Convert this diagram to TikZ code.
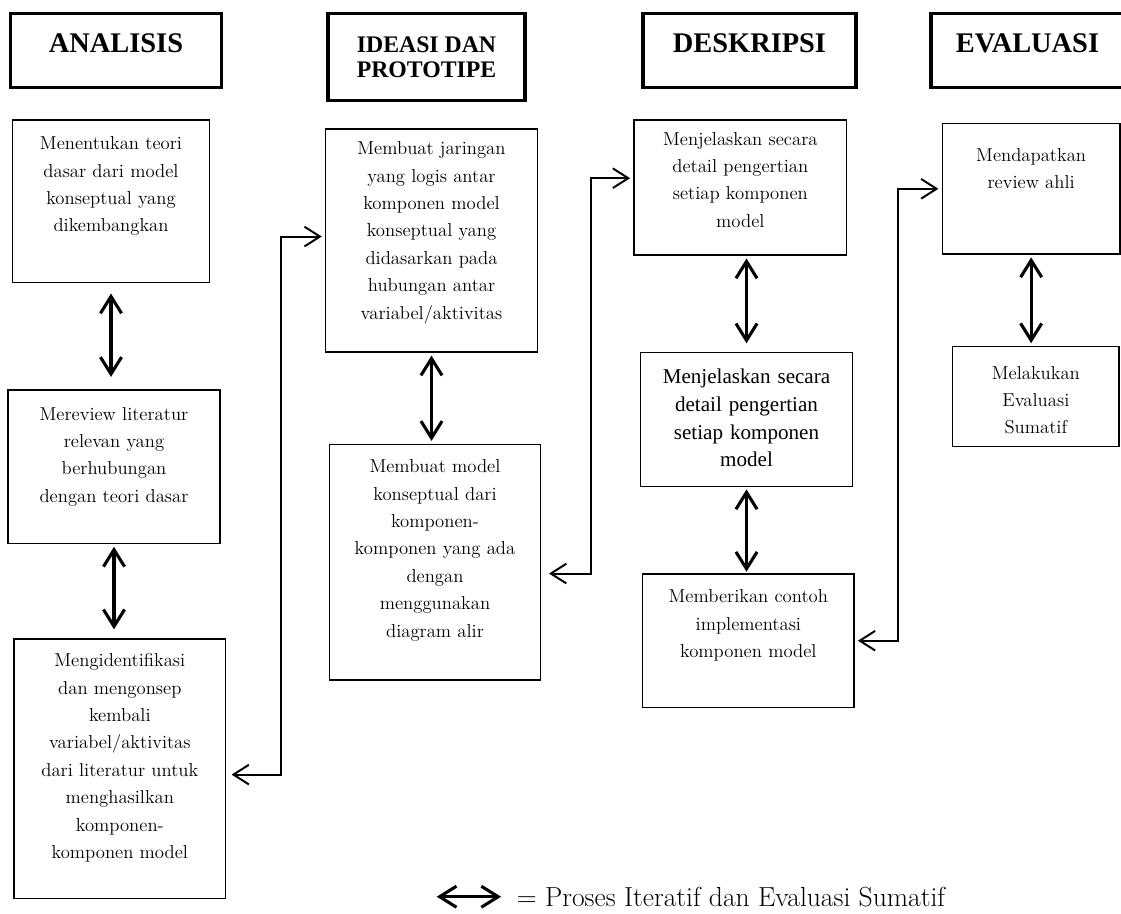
\documentclass[tikz,border=0pt]{standalone}
\usepackage{fontspec}
\newfontfamily\timesfont{Liberation Serif}
\usepackage{tikz}
\usetikzlibrary{arrows.meta, positioning}

\begin{document}
\begin{tikzpicture}[
  every node/.style={font=\fontsize{13.3}{19.5}\selectfont},
  headbox/.style={
    rectangle, draw, line width=2.2pt, inner sep=0pt,
    font=\timesfont\bfseries\fontsize{20.2}{22}\selectfont},
  stepbox/.style={
    rectangle, draw, line width=1pt, anchor=north,
    align=center, inner sep=0pt, text height=0.7cm},
  iter/.style={
    {Straight Barb[length=12pt,width=15pt]}-{Straight Barb[length=12pt,width=15pt]},
    line width=2.2pt, shorten <=0.07cm, shorten >=0.07cm},
  link/.style={
    {Straight Barb[length=11pt,width=14pt]}-{Straight Barb[length=11pt,width=14pt]},
    line width=1.4pt, shorten <=0.08cm, shorten >=0.08cm}
]
\clip (0,0) rectangle (28.025,-22.825);

%% -- HEADERS ---------------------------------------------
\node[headbox, minimum width=5.27cm, text height=0.985cm, text depth=0.865cm]
  (analisis) at (2.90,-1.2575) {ANALISIS};
\node[headbox, align=center, minimum width=4.925cm, minimum height=2.185cm,
      font=\timesfont\bfseries\fontsize{16.9}{17.8}\selectfont]
  (ideasi) at (10.6625,-1.425) {IDEASI DAN\\PROTOTIPE};
\node[headbox, minimum width=5.325cm, text height=0.985cm, text depth=0.865cm]
  (deskripsi) at (18.7375,-1.2575) {DESKRIPSI};
\node[headbox, minimum width=4.825cm, text height=0.985cm, text depth=0.865cm]
  (evaluasi) at (25.6875,-1.2575) {EVALUASI};

%% -- ANALISIS column -------------------------------------
\node[stepbox, text width=4.915cm, text height=0.7425cm, text depth=3.3175cm]
  (teori) at (2.775,-2.9825)
  {Menentukan teori\\dasar dari model\\konseptual yang\\dikembangkan};
\node[stepbox, text width=5.3cm, text height=0.7525cm, text depth=3.08cm]
  (literatur) at (2.85,-9.7325)
  {Mereview literatur\\relevan yang\\berhubungan\\dengan teori dasar};
\node[stepbox, text width=5.2925cm, text height=0.69cm, text depth=5.79cm]
  (identifikasi) at (2.996,-15.9575)
  {Mengidentifikasi\\dan mengonsep\\kembali\\variabel/aktivitas\\dari literatur untuk\\menghasilkan\\komponen-\\komponen model};

%% -- IDEASI column ---------------------------------------
\node[stepbox, text width=5.29cm, text height=0.6425cm, text depth=4.935cm]
  (jaringan) at (10.7875,-3.2075)
  {Membuat jaringan\\yang logis antar\\komponen model\\konseptual yang\\didasarkan pada\\hubungan antar\\variabel/aktivitas};
\node[stepbox, text width=5.285cm, text height=0.7075cm, text depth=5.18cm]
  (alir) at (10.875,-11.0925)
  {Membuat model\\konseptual dari\\komponen-\\komponen yang ada\\dengan\\menggunakan\\diagram alir};

%% -- DESKRIPSI column ------------------------------------
\node[stepbox, text width=5.3175cm, text height=0.625cm, text depth=2.75cm]
  (penjelasan) at (18.509,-2.9825)
  {Menjelaskan secara\\detail pengertian\\setiap komponen\\model};
\node[stepbox, text width=5.29cm, text height=0.7825cm, text depth=2.575cm,
      font=\timesfont\fontsize{15}{19.7}\selectfont]
  (penjelasanb) at (18.6625,-8.7925)
  {Menjelaskan secara\\detail pengertian\\setiap komponen\\model};
\node[stepbox, text width=5.2825cm, text height=0.7175cm, text depth=2.6175cm]
  (contoh) at (18.709,-14.3325)
  {Memberikan contoh\\implementasi\\komponen model};

%% -- EVALUASI column -------------------------------------
\node[stepbox, text width=4.4425cm, text height=0.94cm, text depth=2.315cm]
  (review) at (25.779,-3.075)
  {Mendapatkan\\review ahli};
\node[stepbox, text width=4.1575cm, text height=0.81cm, text depth=1.69cm]
  (sumatif) at (25.896,-8.65)
  {Melakukan\\Evaluasi\\Sumatif};

%% iterative arrows inside columns
\draw[iter, shorten <=0.26cm, shorten >=0.31cm] (teori.south) -- (teori.south |- literatur.north);
\draw[iter, shorten >=0.225cm] (literatur.south) -- (literatur.south |- identifikasi.north);
\draw[iter] (jaringan.south) -- (jaringan.south |- alir.north);
\draw[iter, shorten >=0.21cm] (penjelasan.south -| penjelasanb.north) -- (penjelasanb.north);
\draw[iter, shorten <=0.05cm, shorten >=0.04cm] (penjelasanb.south) -- (penjelasanb.south |- contoh.north);
\draw[iter] (review.south) -- (review.south |- sumatif.north);

%% links between columns
\coordinate (busa) at (7.025,0);
\coordinate (busb) at (14.775,0);
\coordinate (busc) at (22.4575,0);
\coordinate (identout) at ([yshift=-0.15cm]identifikasi.east);
\coordinate (jarin) at ([yshift=0.1cm]jaringan.west);
\coordinate (alirout) at ([yshift=-0.285cm]alir.east);
\coordinate (penjin) at ([yshift=0.2325cm]penjelasan.west);
\draw[link, shorten <=0.13cm] (identout) -| (busa |- jarin) -- (jarin);
\draw[link, shorten <=0.19cm] (alirout) -| (busb |- penjin) -- (penjin);
\draw[link] (contoh.east) -| (busc |- review.west) -- (review.west);

%% legend
\node[font=\fontsize{19.6}{22}\selectfont, anchor=base east, inner ysep=0pt, text depth=0pt]
  (ket) at (23.75,-22.66) {= Proses Iteratif dan Evaluasi Sumatif};
\coordinate[left=1.95cm of ket.west] (ketkiri);
\draw[iter] (ketkiri) -- ([xshift=-0.2cm]ket.west);

\end{tikzpicture}
\end{document}
